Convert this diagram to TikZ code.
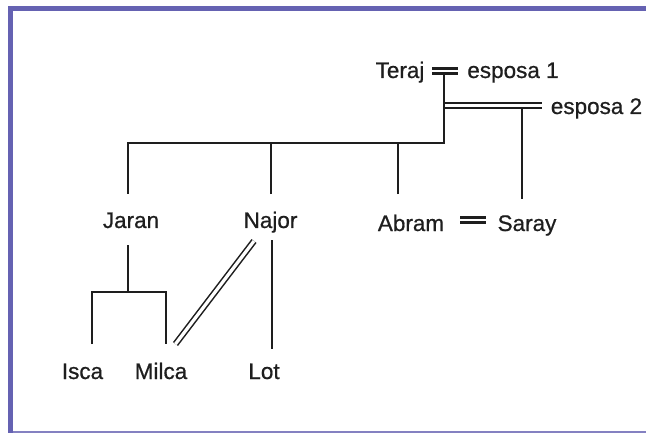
\documentclass[tikz,border=0pt]{standalone}
\usepackage{fontspec}
\setmainfont{Liberation Sans}
\newfontfamily\kinfont[FakeBold=0.7]{Liberation Sans}
\usepackage{xcolor}
\usepackage{tikz}
\usetikzlibrary{positioning,calc}
\definecolor{framepurple}{RGB}{101,98,178}
\definecolor{ink}{RGB}{30,30,30}

\begin{document}
\begin{tikzpicture}[x=0.025cm,y=-0.025cm,
    person/.style={anchor=base,inner sep=0pt,text=ink,font=\kinfont\fontsize{16}{19}\selectfont},
    kin/.style={ink,line width=1.4pt},
    wed/.style={ink,line width=1.7pt,double,double distance=1.7pt},
    wedlong/.style={ink,line width=1.5pt,double,double distance=2.6pt},
    wedthin/.style={ink,line width=1.1pt,double,double distance=2.3pt}]
  \useasboundingbox (0,0) rectangle (646,433);
  % frame
  \fill[framepurple] (8,6) rectangle (646,11);
  \fill[framepurple] (8,6) rectangle (13,433);
  \fill[framepurple!80] (13,431.4) rectangle (646,432.8);
  % people
  \node[person] (teraj)   at (400,78)    {Teraj};
  \node[person] (esposaA) at (513,78)    {esposa 1};
  \node[person] (esposaB) at (596.5,114) {esposa 2};
  \node[person] (jaran)   at (131,228)   {Jaran};
  \node[person] (najor)   at (270.5,228) {Najor};
  \node[person] (abram)   at (411,231)   {Abram};
  \node[person] (saray)   at (527,231)   {Saray};
  \node[person] (isca)    at (82.5,379)  {Isca};
  \node[person] (milca)   at (161,379)   {Milca};
  \node[person] (lot)     at (264,379)   {Lot};
  % line ends
  \coordinate (terajWedL)  at (432,71);
  \coordinate (terajWedR)  at (458,71);
  \coordinate (secondWedL) at (444,105.5);
  \coordinate (secondWedR) at (542,105.5);
  \coordinate (stemTop)    at (444,73);
  \coordinate (sibBar)     at (444,143);
  \coordinate (jaranUp)    at (128,194);
  \coordinate (najorUp)    at (271,194);
  \coordinate (abramUp)    at (398,194);
  \coordinate (sarayTop)   at (522,108);
  \coordinate (sarayUp)    at (522,199);
  \coordinate (abramWedL)  at (460,220);
  \coordinate (abramWedR)  at (486,220);
  \coordinate (jaranDown)  at (128,245);
  \coordinate (childBar)   at (128,292);
  \coordinate (iscaUp)     at (92,344);
  \coordinate (milcaUp)    at (166,344);
  \coordinate (lotDown)    at (272,240);
  \coordinate (lotUp)      at (272,349);
  \coordinate (najorWed)   at (254,241);
  \coordinate (milcaWed)   at (175.5,344);
  % marriages
  \draw[wed] (terajWedL) -- (terajWedR);
  \draw[wedlong] (secondWedL) -- (secondWedR);
  \draw[wed] (abramWedL) -- (abramWedR);
  \draw[wedthin] (najorWed) -- (milcaWed);
  % children of Teraj
  \draw[kin] (stemTop) -- (sibBar) -| (jaranUp);
  \draw[kin] (najorUp) -- (najorUp |- sibBar);
  \draw[kin] (abramUp) -- (abramUp |- sibBar);
  \draw[kin] (sarayTop) -- (sarayUp);
  % children of Jaran and Najor
  \draw[kin] (jaranDown) -- (childBar);
  \draw[kin] (iscaUp) |- (milcaUp |- childBar) -- (milcaUp);
  \draw[kin] (lotDown) -- (lotUp);
\end{tikzpicture}
\end{document}
